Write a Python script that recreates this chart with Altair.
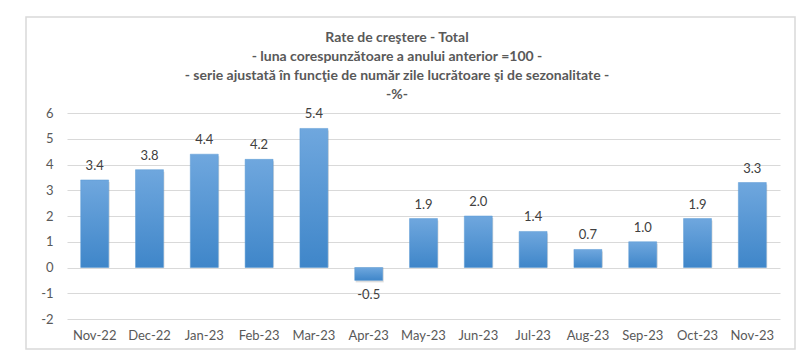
import altair as alt
import pandas as pd

months = ["Nov-22", "Dec-22", "Jan-23", "Feb-23", "Mar-23", "Apr-23", "May-23",
          "Jun-23", "Jul-23", "Aug-23", "Sep-23", "Oct-23", "Nov-23"]
values = [3.4, 3.8, 4.4, 4.2, 5.4, -0.5, 1.9, 2.0, 1.4, 0.7, 1.0, 1.9, 3.3]
y_ticks = [-2, -1, 0, 1, 2, 3, 4, 5, 6]
title_lines = [
    "Rate de creştere - Total",
    "- luna corespunzătoare a anului anterior =100 -",
    "- serie ajustată în funcţie de număr zile lucrătoare şi de sezonalitate -",
    "-%-",
]

df = pd.DataFrame({"luna": months, "val": values})
FONT = "Lato"
TXT = "#595959"

base = alt.Chart(df).transform_calculate(
    lbl="datum.val < 0 ? '-' + format(-datum.val, '.1f') : format(datum.val, '.1f')"
)
x = alt.X("luna:N", sort=months, title=None,
          scale=alt.Scale(paddingInner=0.49, paddingOuter=0.25),
          axis=alt.Axis(labelAngle=0, ticks=False, domain=False, labelPadding=10,
                        labelFontSize=13, labelColor=TXT, labelFont=FONT))
y = alt.Y("val:Q", title=None,
          scale=alt.Scale(domain=[-2, 6], nice=False),
          axis=alt.Axis(values=y_ticks, ticks=False, domain=False, labelOverlap=False,
                        labelExpr="datum.value < 0 ? '-' + (-datum.value) : '' + datum.value",
                        labelPadding=14, labelFontSize=13, labelColor=TXT, labelFont=FONT,
                        gridColor="#d9d9d9", gridWidth=1))

grad = alt.Gradient(gradient="linear",
                    stops=[alt.GradientStop(color="#6fa7de", offset=0),
                           alt.GradientStop(color="#3f86c9", offset=1)],
                    x1=0, x2=0, y1=0, y2=1)

shadow = base.mark_bar(color="#9a9a9a", opacity=0.35, yOffset=2, xOffset=1).encode(
    x=x, y=y, y2=alt.datum(0))
bars = base.mark_bar(color=grad, stroke="#5b9bd5", strokeWidth=0.5).encode(x=x, y=y, y2=alt.datum(0))

pos = base.transform_filter("datum.val >= 0").mark_text(
    baseline="bottom", dy=-7, fontSize=13, color="#404040", font=FONT
).encode(x=x, y=y, text="lbl:N")
neg = base.transform_filter("datum.val < 0").mark_text(
    baseline="top", dy=9, fontSize=13, color="#404040", font=FONT
).encode(x=x, y=y, text="lbl:N")

deco = alt.Chart(pd.DataFrame({"f": [0]}))
frame = deco.mark_rect(fill=None, stroke="#d9d9d9", strokeWidth=1.5).encode(
    x=alt.value(-41), x2=alt.value(728), y=alt.value(-96), y2=alt.value(236))
title = deco.mark_text(text=title_lines, fontSize=14, fontWeight="bold", font=FONT,
                       color=TXT, lineHeight=19, align="center", baseline="middle").encode(
    x=alt.value(330), y=alt.value(-75))

chart = alt.layer(frame, title, shadow, bars, pos, neg).properties(
    width=713, height=206,
    autosize=alt.AutoSizeParams(type="none"),
    padding={"left": 67, "top": 113, "right": 20, "bottom": 34},
    background="white",
).configure_view(stroke=None)

chart.save("out.html", embed_options={"renderer": "svg", "actions": False})
